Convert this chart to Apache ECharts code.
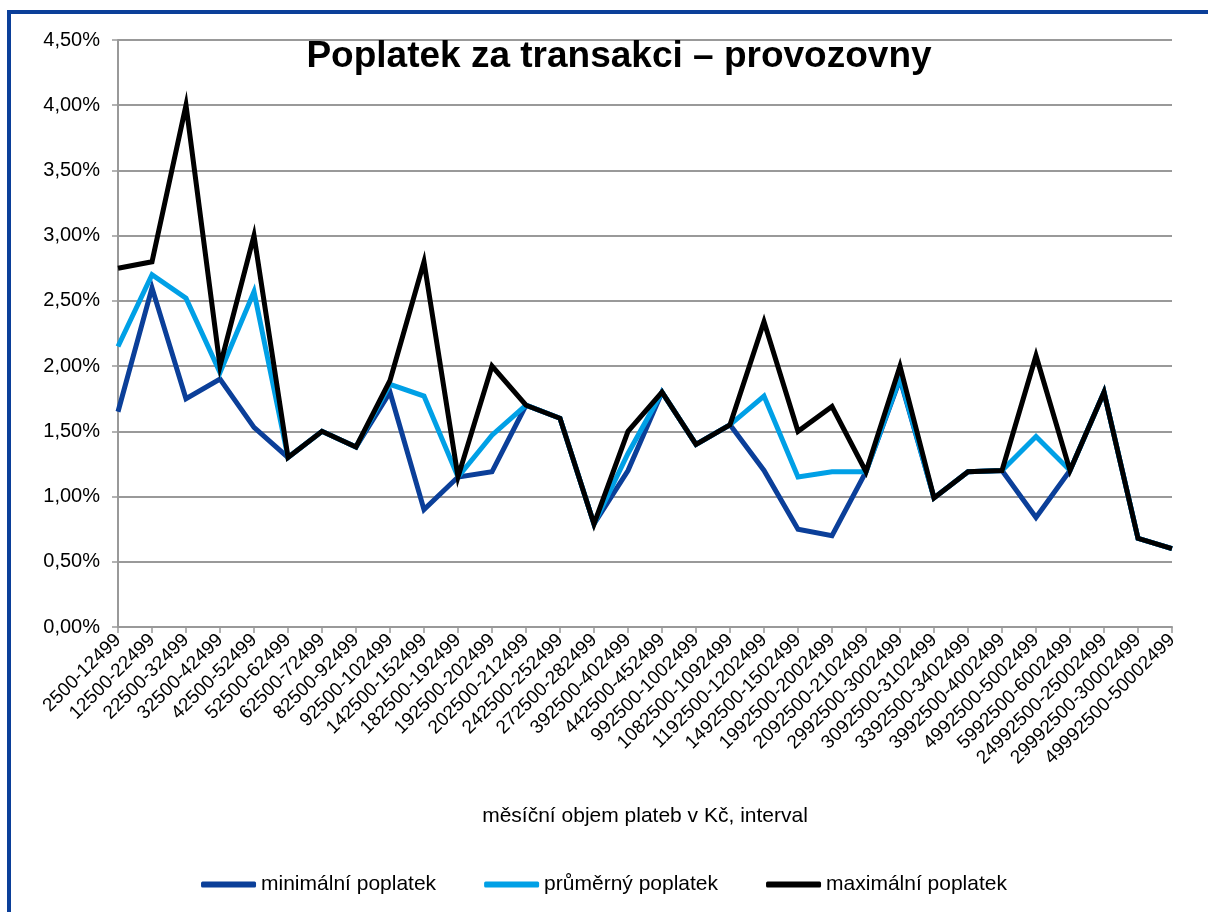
<!DOCTYPE html>
<html>
<head>
<meta charset="utf-8">
<script src="https://cdn.jsdelivr.net/npm/echarts@6/dist/echarts.min.js"></script>
<style>
html,body{margin:0;padding:0;background:#fff;}
#frame{position:absolute;left:7px;top:10px;width:1300px;height:1000px;border-left:4px solid #0b3f99;border-top:4px solid #0b3f99;box-sizing:border-box;}
#chart{position:absolute;left:0;top:0;width:1208px;height:912px;}
</style>
</head>
<body>
<div id="frame"></div>
<div id="chart"></div>
<script>
const categories = ["2500-12499","12500-22499","22500-32499","32500-42499","42500-52499","52500-62499","62500-72499","82500-92499","92500-102499","142500-152499","182500-192499","192500-202499","202500-212499","242500-252499","272500-282499","392500-402499","442500-452499","992500-1002499","1082500-1092499","1192500-1202499","1492500-1502499","1992500-2002499","2092500-2102499","2992500-3002499","3092500-3102499","3392500-3402499","3992500-4002499","4992500-5002499","5992500-6002499","24992500-25002499","29992500-30002499","49992500-50002499"];
const minFee = [1.65,2.60,1.75,1.90,1.53,1.30,1.50,1.38,1.80,0.90,1.15,1.19,1.70,1.60,0.79,1.20,1.80,1.40,1.55,1.20,0.75,0.70,1.19,1.90,0.99,1.19,1.20,0.84,1.20,1.80,0.68,0.60];
const avgFee = [2.15,2.70,2.52,1.95,2.57,1.30,1.50,1.38,1.86,1.77,1.15,1.47,1.70,1.60,0.79,1.33,1.80,1.40,1.55,1.77,1.15,1.19,1.19,1.91,0.99,1.19,1.20,1.46,1.20,1.80,0.68,0.60];
const maxFee = [2.75,2.80,4.00,2.00,3.00,1.30,1.50,1.38,1.89,2.80,1.15,2.00,1.70,1.60,0.79,1.50,1.80,1.40,1.55,2.34,1.50,1.69,1.19,2.00,0.99,1.19,1.20,2.08,1.20,1.80,0.68,0.60];
const seriesNames = ["minimální poplatek","průměrný poplatek","maximální poplatek"];
const colors = ["#0b3f99","#00a0e6","#000000"];

const chart = echarts.init(document.getElementById('chart'), null, {renderer:'canvas'});
const font = '"Liberation Sans", Arial, sans-serif';
chart.setOption({
  backgroundColor: 'transparent',
  animation: false,
  title: {
    text: 'Poplatek za transakci – provozovny',
    left: 614, top: 33, textAlign: 'center',
    textStyle: {fontFamily: font, fontSize: 37, fontWeight: 'bold', color: '#000'}
  },
  grid: {left: 118, right: 36, top: 40, bottom: 285, containLabel: false},
  legend: {
    top: 869, left: 'center', itemWidth: 55, itemHeight: 6, itemGap: 48,
    icon: 'roundRect',
    textStyle: {fontFamily: font, fontSize: 21, color: '#000'},
    data: seriesNames
  },
  xAxis: {
    type: 'category', data: categories, boundaryGap: false,
    name: 'měsíční objem plateb v Kč, interval', nameLocation: 'middle', nameGap: 179,
    nameTextStyle: {fontFamily: font, fontSize: 21, color: '#000'},
    axisLine: {lineStyle: {color: '#999', width: 2}},
    axisTick: {show: true, inside: false, length: 6, alignWithLabel: true, interval: 0, lineStyle: {color: '#999', width: 1.5}},
    axisLabel: {interval: 0, rotate: 45, fontFamily: font, fontSize: 19, color: '#000', margin: 10},
    splitLine: {show: false}
  },
  yAxis: {
    type: 'value', min: 0, max: 4.5, interval: 0.5,
    axisLine: {show: true, lineStyle: {color: '#999', width: 2}},
    axisTick: {show: true, length: 6, lineStyle: {color: '#999', width: 1.5}},
    axisLabel: {fontFamily: font, fontSize: 20, color: '#000', margin: 18,
      formatter: v => v.toFixed(2).replace('.', ',') + '%'},
    splitLine: {lineStyle: {color: '#999', width: 2}}
  },
  series: [
    {name: seriesNames[0], type: 'line', data: minFee, showSymbol: false, symbol: 'none', color: colors[0], lineStyle: {width: 5, color: colors[0], join: 'miter'}},
    {name: seriesNames[1], type: 'line', data: avgFee, showSymbol: false, symbol: 'none', color: colors[1], lineStyle: {width: 5, color: colors[1], join: 'miter'}},
    {name: seriesNames[2], type: 'line', data: maxFee, showSymbol: false, symbol: 'none', color: colors[2], lineStyle: {width: 5, color: colors[2], join: 'miter'}}
  ]
});
</script>
</body>
</html>
